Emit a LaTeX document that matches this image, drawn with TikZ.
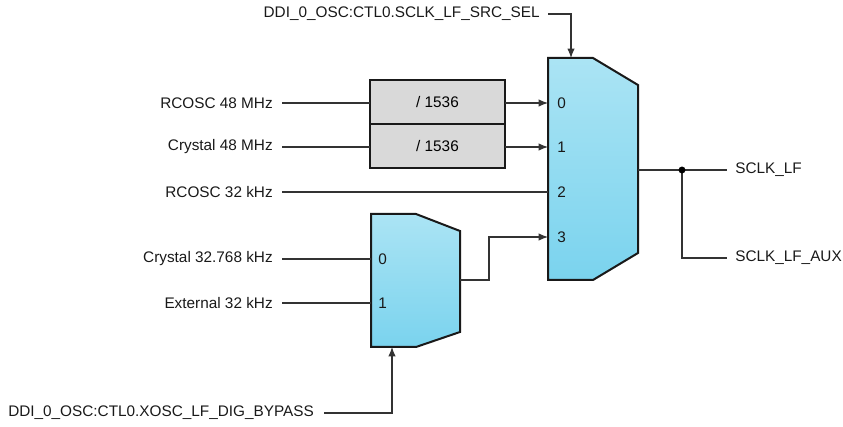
\documentclass[tikz,border=0pt]{standalone}
\usepackage{fontspec}
\setmainfont{Liberation Sans}
\usetikzlibrary{arrows.meta}
\begin{document}
\begin{tikzpicture}[x=0.75pt,y=-0.75pt,
  lbl/.style={font=\fontsize{11.5}{13}\selectfont, inner sep=0pt, text=black!90},
  wire/.style={line width=0.8pt, draw=black!80},
  arr/.style={wire,-{Latex[length=7pt,width=5.5pt]}},
  muxshape/.style={line width=1.5pt, draw=black!90, top color=muxtop, bottom color=muxbot},
  divbox/.style={draw=black!90, line width=1.5pt, fill=divgray, minimum width=101.25pt, minimum height=33pt, outer sep=0pt, font=\fontsize{11.5}{13}\selectfont}]
\definecolor{muxtop}{HTML}{ABE4F4}
\definecolor{muxbot}{HTML}{7AD3EE}
\definecolor{divgray}{HTML}{D9D9D9}
\useasboundingbox (0,0) rectangle (843,427);

% big mux
\draw[muxshape] (548,58) -- (593,58) -- (638,85) -- (638,253) -- (593,280) -- (548,280) -- cycle;
\coordinate (bm0) at (548,103);
\coordinate (bm1) at (548,147);
\coordinate (bm2) at (548,192);
\coordinate (bm3) at (548,237);
\coordinate (bmsel) at (571,58);
\coordinate (bmout) at (638,170);
\node[lbl, anchor=west] (n0) at (557,103) {0};
\node[lbl, anchor=west] (n1) at (557,147) {1};
\node[lbl, anchor=west] (n2) at (557,192) {2};
\node[lbl, anchor=west] (n3) at (557,237) {3};

% small mux
\draw[muxshape] (371,214) -- (416,214) -- (460,231) -- (460,332) -- (416,347) -- (371,347) -- cycle;
\coordinate (sm0) at (371,259);
\coordinate (sm1) at (371,303);
\coordinate (smsel) at (392,347);
\coordinate (smout) at (460,280);
\node[lbl, anchor=west] (s0) at (378,259) {0};
\node[lbl, anchor=west] (s1) at (378,303) {1};

% dividers
\node[divbox] (d0) at (437.5,102) {/ 1536};
\node[divbox] (d1) at (437.5,146.5) {/ 1536};

% input labels
\node[lbl, anchor=east] (l0) at (273,103) {RCOSC 48 MHz};
\node[lbl, anchor=east] (l1) at (273,147) {Crystal 48 MHz};
\node[lbl, anchor=east] (l2) at (273,192) {RCOSC 32 kHz};
\node[lbl, anchor=east] (l3) at (273,259) {Crystal 32.768 kHz};
\node[lbl, anchor=east] (l4) at (273,303) {External 32 kHz};

\draw[wire] ([xshift=6.75pt]l0.east) -- (d0.west |- l0.east);
\draw[wire] ([xshift=6.75pt]l1.east) -- (d1.west |- l1.east);
\draw[arr] (d0.east |- bm0) -- (bm0);
\draw[arr] (d1.east |- bm1) -- (bm1);
\draw[wire] ([xshift=6.75pt]l2.east) -- (bm2);
\draw[wire] ([xshift=6.75pt]l3.east) -- (sm0);
\draw[wire] ([xshift=6.75pt]l4.east) -- (sm1);
\coordinate (bend) at (489,280);
\draw[arr] (smout) -- (bend) |- (bm3);

% select lines
\node[lbl, anchor=east] (selA) at (540,14) {DDI\_0\_OSC:CTL0.SCLK\_LF\_SRC\_SEL};
\draw[arr] ([xshift=6pt]selA.east) -| (bmsel);
\node[lbl, anchor=west] (selB) at (8,413) {DDI\_0\_OSC:CTL0.XOSC\_LF\_DIG\_BYPASS};
\draw[arr] ([xshift=7.5pt]selB.east) -| (smsel);

% outputs
\node[lbl, anchor=west] (o1) at (735,170) {SCLK\_LF};
\node[lbl, anchor=west] (o2) at (735,258) {SCLK\_LF\_AUX};
\coordinate (j) at (682,170);
\draw[wire] (bmout) -- ([xshift=-6pt]o1.west);
\draw[wire] (j) |- ([xshift=-6pt]o2.west);
\fill[black] (j) circle (2.6pt);
\end{tikzpicture}
\end{document}
